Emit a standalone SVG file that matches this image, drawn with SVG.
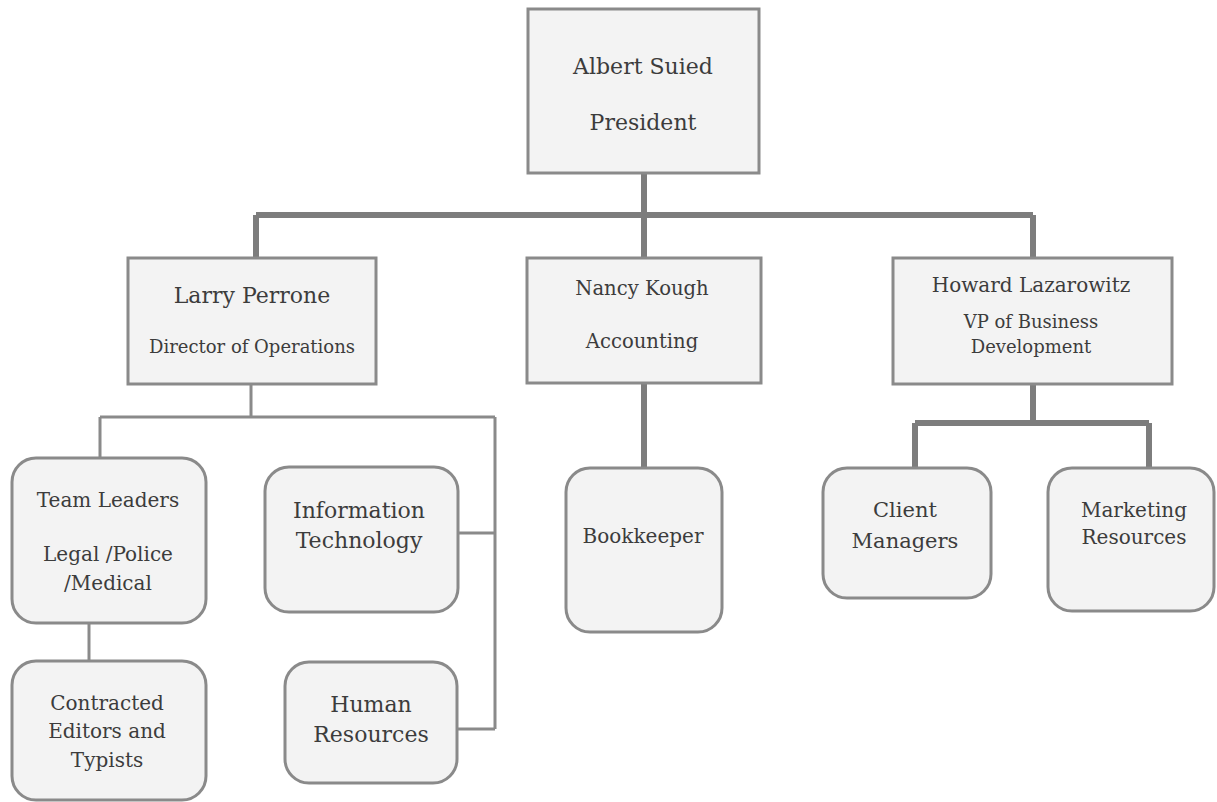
<svg xmlns="http://www.w3.org/2000/svg" width="1217" height="802" viewBox="0 0 1217 802">
<style>
.box{fill:#f3f3f3;stroke:#8a8a8a;stroke-width:3}
.thick{fill:none;stroke:#7d7d7d;stroke-width:6}
.thin{fill:none;stroke:#8a8a8a;stroke-width:3}
text{font-family:"DejaVu Serif","Liberation Serif",serif;fill:#3c3c3c;text-anchor:middle;font-size:20px}
.s18{font-size:18px}
.s195{font-size:19.6px}
.s21{font-size:21px}
.s22{font-size:22px}
</style>
<rect width="1217" height="802" fill="#ffffff"/>
<g id="connectors">
<path class="thick" d="M644 173 V215 M256 215 H1033 M256 215 V258 M644 215 V258 M1033 215 V258"/>
<path class="thick" d="M644 383 V468"/>
<path class="thick" d="M1033 384 V423 M915 423 H1149 M915 423 V468 M1149 423 V468"/>
<path class="thin" d="M251 384 V417 M100 417 H495 M100 417 V458 M495 417 V729 M458 533 H495 M457 729 H495"/>
<path class="thin" d="M89 623 V661"/>
</g>
<g id="president">
<rect class="box" x="528" y="9" width="231" height="164"/>
<text class="s22" x="643" y="74">Albert Suied</text>
<text class="s22" x="643" y="130">President</text>
</g>
<g id="larry">
<rect class="box" x="128" y="258" width="248" height="126"/>
<text class="s22" x="252" y="303">Larry Perrone</text>
<text class="s18" x="252" y="353">Director of Operations</text>
</g>
<g id="nancy">
<rect class="box" x="527" y="258" width="234" height="125"/>
<text class="s195" x="642" y="295">Nancy Kough</text>
<text class="s195" x="642" y="348">Accounting</text>
</g>
<g id="howard">
<rect class="box" x="893" y="258" width="279" height="126"/>
<text x="1031" y="292">Howard Lazarowitz</text>
<text class="s18" x="1031" y="328">VP of Business</text>
<text class="s18" x="1031" y="353">Development</text>
</g>
<g id="team-leaders">
<rect class="box" x="12" y="458" width="194" height="165" rx="24"/>
<text x="108" y="507">Team Leaders</text>
<text x="108" y="561">Legal /Police</text>
<text x="108" y="590">/Medical</text>
</g>
<g id="contracted">
<rect class="box" x="12" y="661" width="194" height="139" rx="24"/>
<text x="107" y="710">Contracted</text>
<text x="107" y="738">Editors and</text>
<text x="107" y="767">Typists</text>
</g>
<g id="info-tech">
<rect class="box" x="265" y="467" width="193" height="145" rx="24"/>
<text class="s22" x="359" y="518">Information</text>
<text class="s22" x="359" y="548">Technology</text>
</g>
<g id="human-resources">
<rect class="box" x="285" y="662" width="172" height="121" rx="24"/>
<text class="s22" x="371" y="712">Human</text>
<text class="s22" x="371" y="742">Resources</text>
</g>
<g id="bookkeeper">
<rect class="box" x="566" y="468" width="156" height="164" rx="24"/>
<text x="643" y="543">Bookkeeper</text>
</g>
<g id="client-managers">
<rect class="box" x="823" y="468" width="168" height="130" rx="24"/>
<text class="s21" x="905" y="517">Client</text>
<text class="s21" x="905" y="548">Managers</text>
</g>
<g id="marketing">
<rect class="box" x="1048" y="468" width="166" height="143" rx="24"/>
<text x="1134" y="517">Marketing</text>
<text x="1134" y="544">Resources</text>
</g>
</svg>
